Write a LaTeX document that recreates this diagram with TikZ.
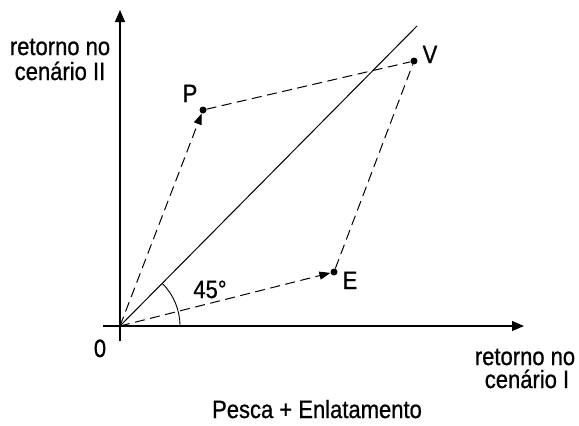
\documentclass[tikz,border=0pt]{standalone}
\usepackage{fontspec}
\setmainfont{Liberation Sans}[FakeStretch=0.88]
\newfontfamily\lblfont{Liberation Sans}[FakeStretch=0.88,FakeBold=0.8]
\usetikzlibrary{arrows.meta}
\begin{document}
\begin{tikzpicture}[x=1pt,y=-1pt,
  axis/.style={line width=1.1pt,-{Triangle[length=12pt,width=10pt]}},
  vec/.style={line width=1pt,dash pattern=on 10pt off 5.5pt},
  vecarrow/.style={vec,-{Triangle[length=11pt,width=8pt]}},
  pt/.style={circle,fill=black,inner sep=0pt,minimum size=7pt},
  lbl/.style={inner sep=0pt,anchor=base,font=\lblfont\fontsize{25}{28}\selectfont}]
\useasboundingbox (0,0) rectangle (579,426);
\coordinate (O) at (120,326);
\coordinate (xs) at (103,326);
\coordinate (xe) at (524,326);
\coordinate (ys) at (120,341);
\coordinate (ye) at (120,10);
\coordinate (D) at (417,26);
\node[pt] (P) at (203,110) {};
\node[pt] (V) at (414,61) {};
\node[pt] (E) at (334,272) {};
\draw[axis] (xs) -- (xe);
\draw[axis] (ys) -- (ye);
\draw[line width=1pt] (O) -- (D);
\draw[line width=0.9pt] (O) ++(60,0) arc[start angle=0,end angle=-45,radius=60];
\draw[vecarrow] (O) -- (P);
\draw[vecarrow] (O) -- (E);
\draw[vec] (P) -- (V);
\draw[vec] (E) -- (V);
\node[lbl] (lp) at (190,102) {P};
\node[lbl] (lv) at (430,63) {V};
\node[lbl] (le) at (350,289) {E};
\node[lbl] (la) at (210,298) {45°};
\node[lbl] (l0) at (100,357) {0};
\node[lbl] (ly1) at (60,55) {retorno no};
\node[lbl] (ly2) at (60,80) {cenário II};
\node[lbl] (lx1) at (525,365) {retorno no};
\node[lbl] (lx2) at (527,388) {cenário I};
\node[lbl] (lt) at (317,418) {Pesca + Enlatamento};
\end{tikzpicture}
\end{document}
